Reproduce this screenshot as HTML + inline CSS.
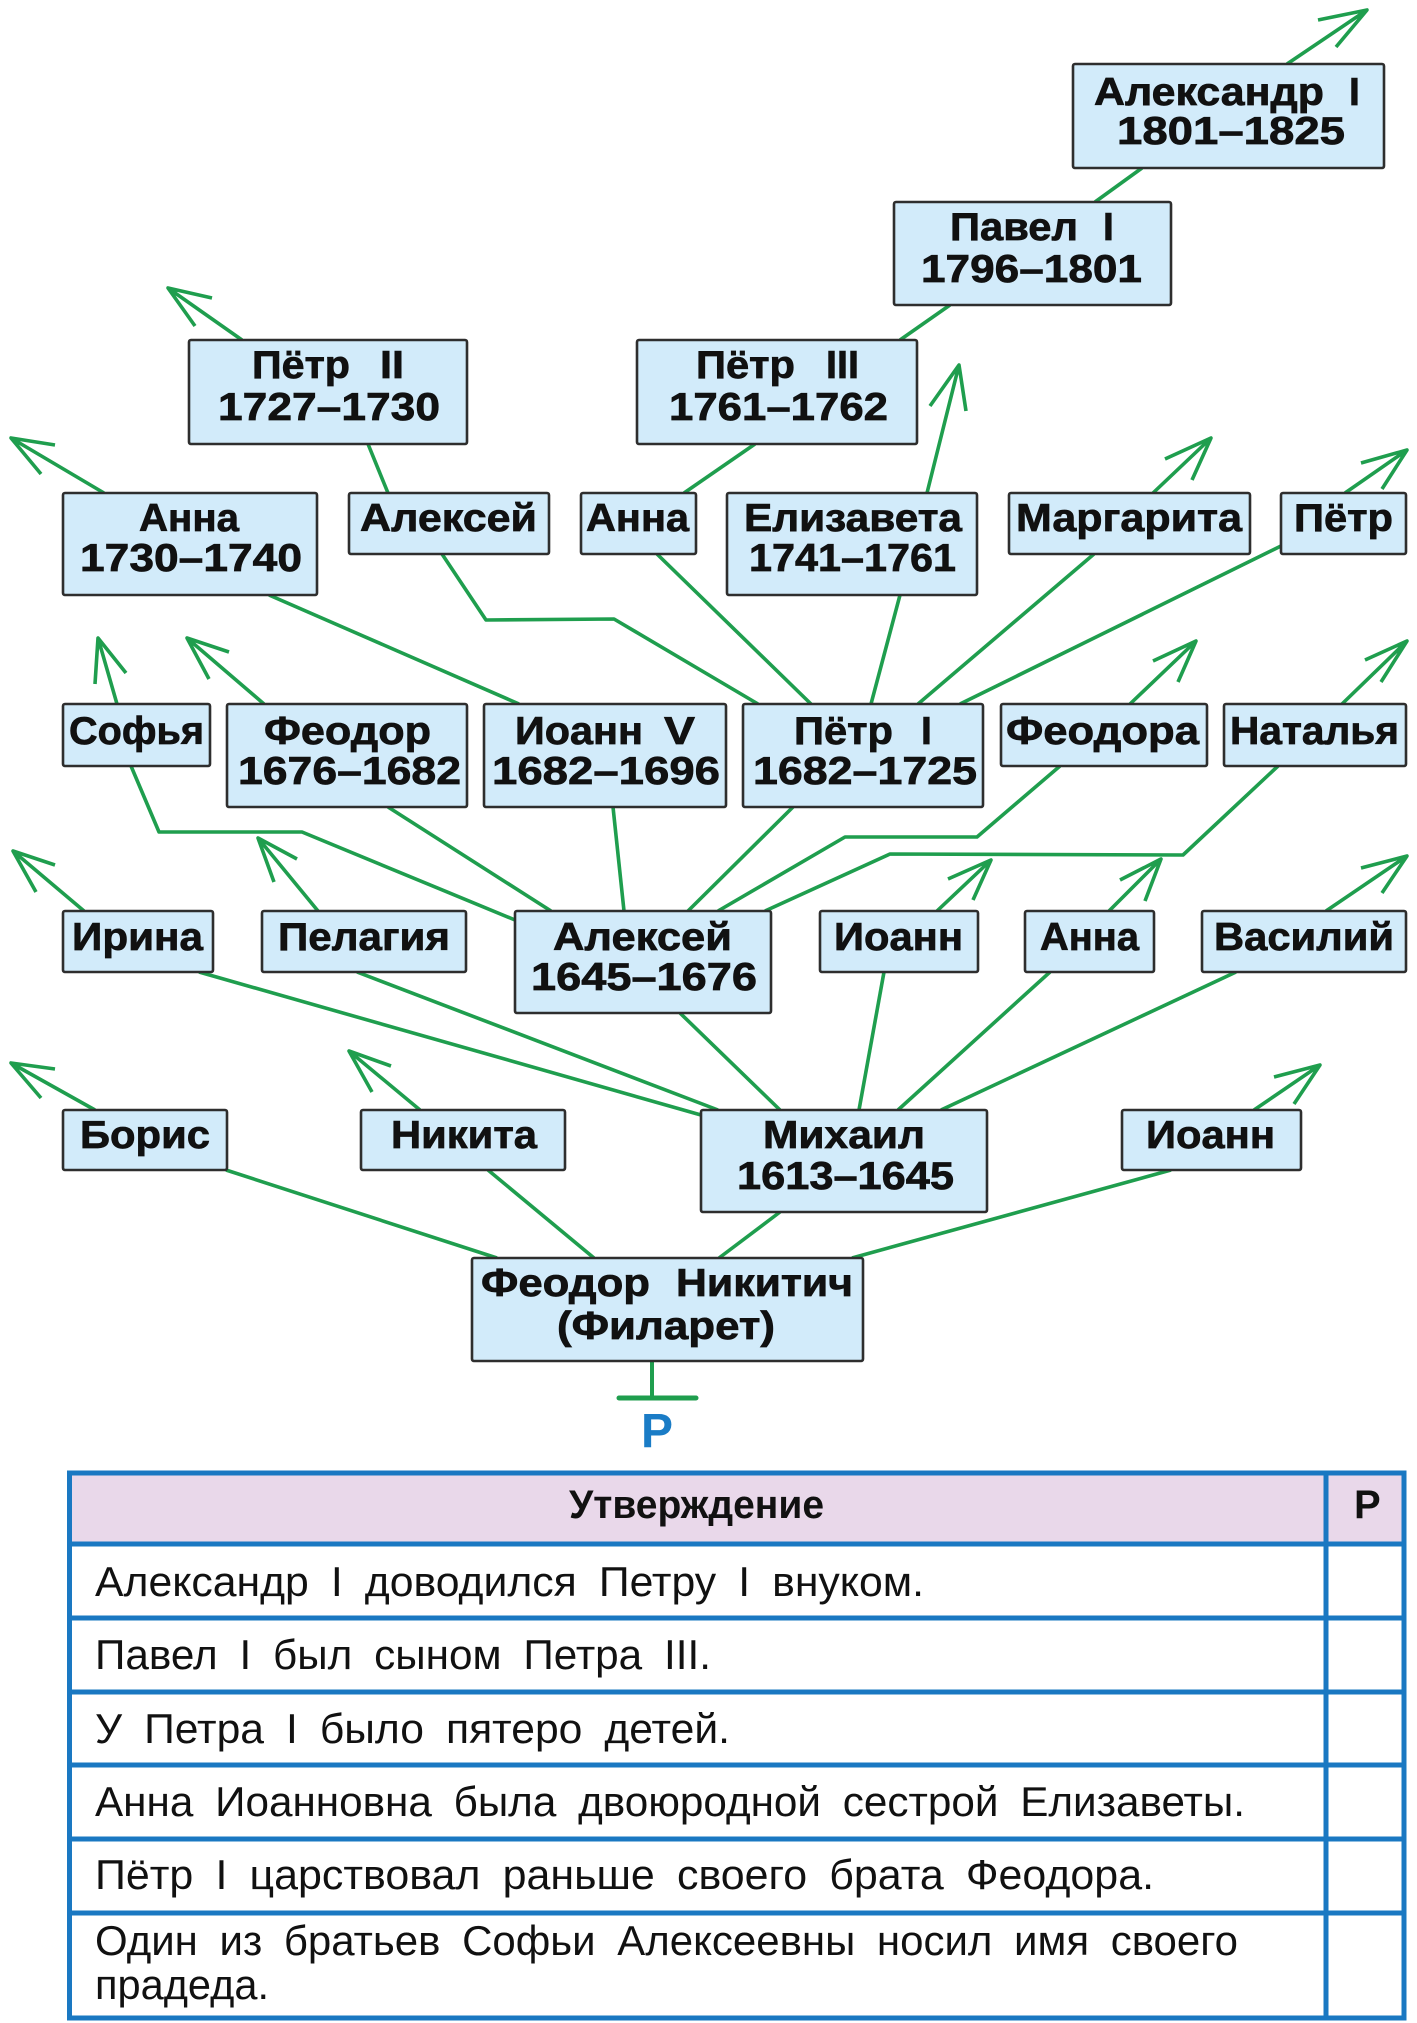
<!DOCTYPE html>
<html><head><meta charset="utf-8"><style>
html,body{margin:0;padding:0;background:#fff;}
svg{display:block;}
.b{font-family:"Liberation Sans","DejaVu Sans",sans-serif;font-weight:bold;font-size:39px;fill:#111;stroke:#111;stroke-width:0.7;}
.t{font-family:"Liberation Sans","DejaVu Sans",sans-serif;font-size:42px;fill:#111;}
.th{font-family:"Liberation Sans","DejaVu Sans",sans-serif;font-weight:bold;font-size:40px;fill:#111;}
</style></head><body>
<svg width="1417" height="2023" viewBox="0 0 1417 2023" xmlns="http://www.w3.org/2000/svg">
<rect x="0" y="0" width="1417" height="2023" fill="#fff"/>
<!-- connectors -->
<g fill="none" stroke="#1f9e4e" stroke-width="3.6" stroke-linejoin="round">
<path d="M1095 202 L1142 168"/>
<path d="M900 340 L950 305"/>
<path d="M368 444 L388 493"/>
<path d="M755 444 L684 493"/>
<path d="M269 595 L519 704"/>
<path d="M442 554 L486 620 L614 619 L758 704"/>
<path d="M657 554 L811 704"/>
<path d="M900 595 L871 704"/>
<path d="M1094 554 L918 704"/>
<path d="M1281 546 L960 704"/>
<path d="M131 766 L159 832 L302 832 L515 920"/>
<path d="M388 807 L551 911"/>
<path d="M613 807 L624 911"/>
<path d="M793 807 L688 911"/>
<path d="M1060 766 L977 837 L845 837 L718 911"/>
<path d="M1278 766 L1183 855 L890 854 L765 911"/>
<path d="M199 972 L701 1115"/>
<path d="M357 972 L718 1110"/>
<path d="M680 1013 L780 1110"/>
<path d="M884 972 L859 1110"/>
<path d="M1050 972 L898 1110"/>
<path d="M1236 972 L941 1110"/>
<path d="M226 1170 L497 1258"/>
<path d="M488 1170 L594 1258"/>
<path d="M780 1212 L719 1258"/>
<path d="M1171 1170 L852 1258"/>
<!-- arrows -->
<path d="M1287 64 L1367 10 M1318 20 L1367 10 L1336 47"/>
<path d="M242 340 L168 288 M212 298 L168 288 L195 326"/>
<path d="M104 493 L11 438 M55 445 L11 438 L41 474"/>
<path d="M927 493 L959 365 M930 406 L959 365 L966 411"/>
<path d="M1153 493 L1211 438 M1165 459 L1211 438 L1192 480"/>
<path d="M1345 493 L1407 450 M1361 463 L1407 450 L1382 489"/>
<path d="M117 704 L98 638 M126 673 L98 638 L95 684"/>
<path d="M264 704 L187 638 M229 652 L187 638 L209 679"/>
<path d="M1130 704 L1196 641 M1153 661 L1196 641 L1178 682"/>
<path d="M1342 704 L1407 641 M1365 660 L1407 641 L1381 682"/>
<path d="M84 911 L13 851 M55 865 L13 851 L36 892"/>
<path d="M318 911 L258 838 M297 859 L258 838 L274 882"/>
<path d="M937 911 L991 860 M948 879 L991 860 L973 900"/>
<path d="M1109 911 L1161 859 M1120 880 L1161 859 L1145 901"/>
<path d="M1326 911 L1407 856 M1361 868 L1407 856 L1382 893"/>
<path d="M95 1110 L11 1063 M55 1069 L11 1063 L41 1098"/>
<path d="M420 1110 L349 1051 M391 1066 L349 1051 L372 1092"/>
<path d="M1254 1110 L1320 1065 M1274 1077 L1320 1065 L1294 1104"/>
</g>
<!-- anchor -->
<path d="M652 1361 L652 1398" stroke="#1f9e4e" stroke-width="4" fill="none"/>
<path d="M619 1398 L696 1398" stroke="#1f9e4e" stroke-width="5" stroke-linecap="round" fill="none"/>
<text x="657" y="1447" text-anchor="middle" font-family="Liberation Sans, sans-serif" font-weight="bold" font-size="48" fill="#1a7cc6">Р</text>
<!-- boxes -->
<g fill="#d2ebfa" stroke="#2e2e2e" stroke-width="2.6">
<rect x="1073" y="64" width="311" height="104" rx="2"/>
<rect x="894" y="202" width="277" height="103" rx="2"/>
<rect x="189" y="340" width="278" height="104" rx="2"/>
<rect x="637" y="340" width="280" height="104" rx="2"/>
<rect x="63" y="493" width="254" height="102" rx="2"/>
<rect x="349" y="493" width="200" height="61" rx="2"/>
<rect x="581" y="493" width="115" height="61" rx="2"/>
<rect x="727" y="493" width="250" height="102" rx="2"/>
<rect x="1009" y="493" width="241" height="61" rx="2"/>
<rect x="1281" y="493" width="125" height="61" rx="2"/>
<rect x="63" y="704" width="147" height="62" rx="2"/>
<rect x="227" y="704" width="240" height="103" rx="2"/>
<rect x="484" y="704" width="242" height="103" rx="2"/>
<rect x="743" y="704" width="240" height="103" rx="2"/>
<rect x="1001" y="704" width="206" height="62" rx="2"/>
<rect x="1224" y="704" width="182" height="62" rx="2"/>
<rect x="63" y="911" width="150" height="61" rx="2"/>
<rect x="262" y="911" width="204" height="61" rx="2"/>
<rect x="515" y="911" width="256" height="102" rx="2"/>
<rect x="820" y="911" width="158" height="61" rx="2"/>
<rect x="1025" y="911" width="129" height="61" rx="2"/>
<rect x="1202" y="911" width="204" height="61" rx="2"/>
<rect x="63" y="1110" width="164" height="60" rx="2"/>
<rect x="361" y="1110" width="204" height="60" rx="2"/>
<rect x="701" y="1110" width="286" height="102" rx="2"/>
<rect x="1122" y="1110" width="179" height="60" rx="2"/>
<rect x="472" y="1258" width="391" height="103" rx="2"/>
</g>
<!-- box labels -->
<g class="b">
<text x="1094" y="105" textLength="230" lengthAdjust="spacingAndGlyphs">Александр</text>
<text x="1349" y="105">I</text>
<text x="1117" y="144" textLength="228" lengthAdjust="spacingAndGlyphs">1801–1825</text>
<text x="950" y="240" textLength="128" lengthAdjust="spacingAndGlyphs">Павел</text>
<text x="1103" y="240">I</text>
<text x="921" y="282" textLength="221" lengthAdjust="spacingAndGlyphs">1796–1801</text>
<text x="252" y="378" textLength="98" lengthAdjust="spacingAndGlyphs">Пётр</text>
<text x="380" y="378" textLength="24" lengthAdjust="spacingAndGlyphs">II</text>
<text x="218" y="420" textLength="222" lengthAdjust="spacingAndGlyphs">1727–1730</text>
<text x="696" y="378" textLength="99" lengthAdjust="spacingAndGlyphs">Пётр</text>
<text x="826" y="378" textLength="33" lengthAdjust="spacingAndGlyphs">III</text>
<text x="669" y="420" textLength="219" lengthAdjust="spacingAndGlyphs">1761–1762</text>
<text x="139" y="531" textLength="100" lengthAdjust="spacingAndGlyphs">Анна</text>
<text x="80" y="571" textLength="222" lengthAdjust="spacingAndGlyphs">1730–1740</text>
<text x="360" y="531" textLength="177" lengthAdjust="spacingAndGlyphs">Алексей</text>
<text x="586" y="531" textLength="103" lengthAdjust="spacingAndGlyphs">Анна</text>
<text x="744" y="531" textLength="218" lengthAdjust="spacingAndGlyphs">Елизавета</text>
<text x="749" y="571" textLength="207" lengthAdjust="spacingAndGlyphs">1741–1761</text>
<text x="1016" y="531" textLength="226" lengthAdjust="spacingAndGlyphs">Маргарита</text>
<text x="1294" y="531" textLength="99" lengthAdjust="spacingAndGlyphs">Пётр</text>
<text x="69" y="744" textLength="135" lengthAdjust="spacingAndGlyphs">Софья</text>
<text x="264" y="744" textLength="167" lengthAdjust="spacingAndGlyphs">Феодор</text>
<text x="238" y="784" textLength="223" lengthAdjust="spacingAndGlyphs">1676–1682</text>
<text x="515" y="744" textLength="128" lengthAdjust="spacingAndGlyphs">Иоанн</text>
<text x="664" y="744" textLength="31" lengthAdjust="spacingAndGlyphs">V</text>
<text x="492" y="784" textLength="228" lengthAdjust="spacingAndGlyphs">1682–1696</text>
<text x="794" y="744" textLength="99" lengthAdjust="spacingAndGlyphs">Пётр</text>
<text x="921" y="744">I</text>
<text x="753" y="784" textLength="224" lengthAdjust="spacingAndGlyphs">1682–1725</text>
<text x="1006" y="744" textLength="193" lengthAdjust="spacingAndGlyphs">Феодора</text>
<text x="1230" y="744" textLength="169" lengthAdjust="spacingAndGlyphs">Наталья</text>
<text x="72" y="950" textLength="131" lengthAdjust="spacingAndGlyphs">Ирина</text>
<text x="278" y="950" textLength="172" lengthAdjust="spacingAndGlyphs">Пелагия</text>
<text x="553" y="950" textLength="179" lengthAdjust="spacingAndGlyphs">Алексей</text>
<text x="531" y="990" textLength="226" lengthAdjust="spacingAndGlyphs">1645–1676</text>
<text x="834" y="950" textLength="129" lengthAdjust="spacingAndGlyphs">Иоанн</text>
<text x="1040" y="950" textLength="99" lengthAdjust="spacingAndGlyphs">Анна</text>
<text x="1214" y="950" textLength="180" lengthAdjust="spacingAndGlyphs">Василий</text>
<text x="80" y="1148" textLength="130" lengthAdjust="spacingAndGlyphs">Борис</text>
<text x="391" y="1148" textLength="146" lengthAdjust="spacingAndGlyphs">Никита</text>
<text x="763" y="1148" textLength="162" lengthAdjust="spacingAndGlyphs">Михаил</text>
<text x="737" y="1189" textLength="217" lengthAdjust="spacingAndGlyphs">1613–1645</text>
<text x="1146" y="1148" textLength="129" lengthAdjust="spacingAndGlyphs">Иоанн</text>
<text x="481" y="1296" textLength="169" lengthAdjust="spacingAndGlyphs">Феодор</text>
<text x="676" y="1296" textLength="177" lengthAdjust="spacingAndGlyphs">Никитич</text>
<text x="557" y="1339" textLength="218" lengthAdjust="spacingAndGlyphs">(Филарет)</text>
</g>
<!-- table -->
<rect x="71" y="1475" width="1333" height="68" fill="#e9d8ea"/>
<g stroke="#1a78c2" stroke-width="5" fill="none">
<rect x="69.5" y="1473" width="1334.5" height="545"/>
<line x1="1326" y1="1473" x2="1326" y2="2018"/>
<line x1="69" y1="1544" x2="1404" y2="1544"/>
<line x1="69" y1="1618" x2="1404" y2="1618"/>
<line x1="69" y1="1692" x2="1404" y2="1692"/>
<line x1="69" y1="1765" x2="1404" y2="1765"/>
<line x1="69" y1="1839" x2="1404" y2="1839"/>
<line x1="69" y1="1913" x2="1404" y2="1913"/>
</g>
<text class="th" x="569" y="1518" textLength="255" lengthAdjust="spacingAndGlyphs">Утверждение</text>
<text class="th" x="1354" y="1518">Р</text>
<g class="t" word-spacing="10">
<text x="95" y="1596" textLength="829" lengthAdjust="spacingAndGlyphs">Александр I доводился Петру I внуком.</text>
<text x="95" y="1669" textLength="616" lengthAdjust="spacingAndGlyphs">Павел I был сыном Петра III.</text>
<text x="95" y="1743" textLength="635" lengthAdjust="spacingAndGlyphs">У Петра I было пятеро детей.</text>
<text x="95" y="1816" textLength="1150" lengthAdjust="spacingAndGlyphs">Анна Иоанновна была двоюродной сестрой Елизаветы.</text>
<text x="95" y="1889" textLength="1059" lengthAdjust="spacingAndGlyphs">Пётр I царствовал раньше своего брата Феодора.</text>
<text x="95" y="1955" textLength="1143" lengthAdjust="spacingAndGlyphs">Один из братьев Софьи Алексеевны носил имя своего</text>
<text x="95" y="1999" textLength="174" lengthAdjust="spacingAndGlyphs">прадеда.</text>
</g>
</svg>
</body></html>
